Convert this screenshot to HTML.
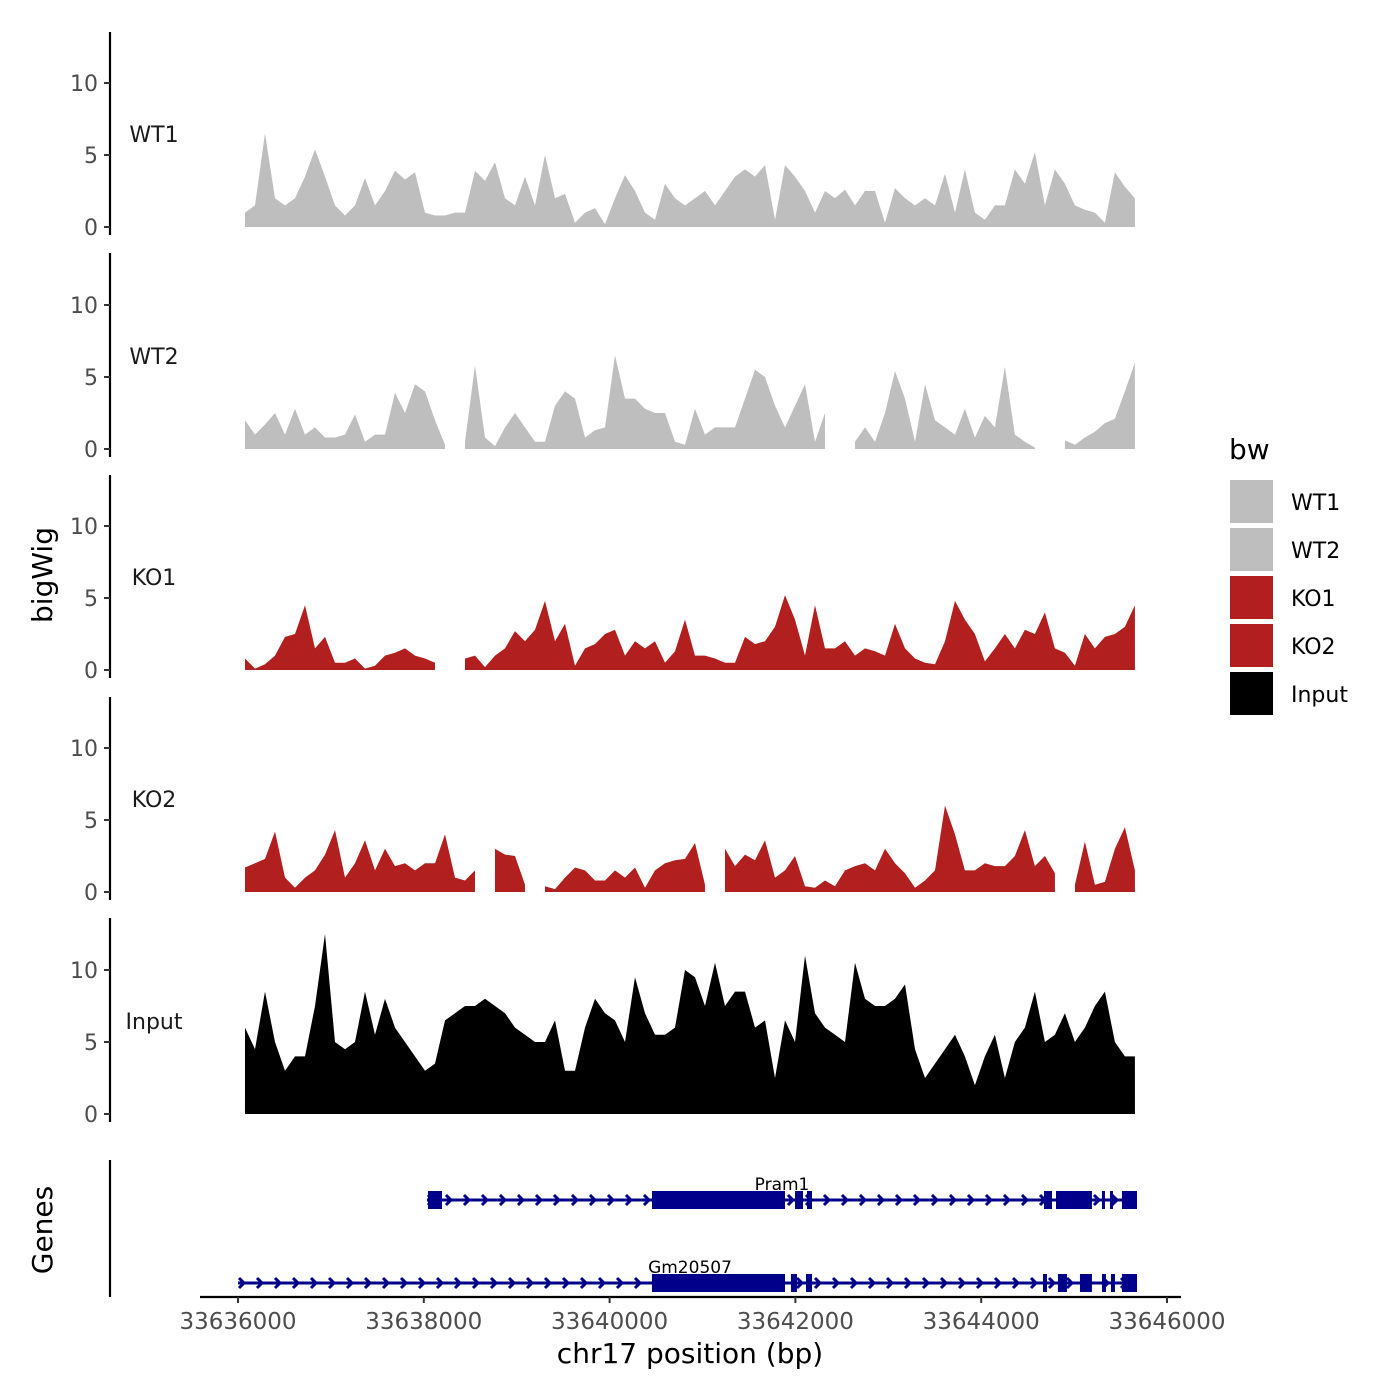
<!DOCTYPE html>
<html><head><meta charset="utf-8"><style>
body{margin:0;background:#fff;}
svg{display:block;font-family:"DejaVu Sans","Liberation Sans",sans-serif;}
</style></head><body>
<svg id="chart" width="1400" height="1400" viewBox="0 0 1400 1400"></svg>
<script>
const binStart = 33636075;
const binStep = 107.64;
const seriesNames = ["WT1","WT2","KO1","KO2","Input"];
const seriesColors = ["#bebebe","#bebebe","#b21f1f","#b21f1f","#000000"];
const wt1 = [1,1.5,6.5,2,1.5,2,3.5,5.4,3.5,1.5,0.8,1.5,3.4,1.5,2.5,3.9,3.3,3.8,1,0.8,0.8,1,1,3.9,3.2,4.5,2,1.5,3.5,1.5,5,2,2.3,0.3,1,1.3,0.2,2,3.6,2.5,1,0.5,3,2,1.5,2,2.5,1.5,2.5,3.5,4,3.5,4.3,0.5,4.3,3.5,2.5,1,2.5,2,2.6,1.5,2.5,2.5,0.3,2.7,2,1.5,2,1.5,3.7,1,4,1,0.5,1.5,1.5,4,3,5.2,1.5,4,3,1.5,1.2,1,0.3,3.8,2.8,2];
const wt2 = [2,1,1.7,2.5,1,2.8,1,1.5,0.8,0.8,1,2.4,0.5,1,1,3.9,2.5,4.5,4,2,0.3,null,0.5,5.8,0.8,0.2,1.5,2.5,1.5,0.5,0.5,3,4,3.5,0.8,1.3,1.5,6.5,3.5,3.5,2.8,2.5,2.5,0.5,0.3,2.8,1,1.5,1.5,1.5,3.5,5.5,5,3,1.5,3,4.5,0.5,2.5,null,null,0.5,1.5,0.5,2.5,5.4,3.5,0.5,4.5,2,1.5,1,2.8,0.8,2.3,1.5,5.7,1,0.5,0.1,null,null,0.6,0.3,0.8,1.2,1.8,2.1,4,6];
const ko1 = [0.8,0.1,0.4,1,2.3,2.5,4.5,1.5,2.3,0.5,0.5,0.8,0.1,0.3,1,1.2,1.5,1,0.8,0.5,null,null,0.8,1,0.2,1,1.5,2.7,2,2.8,4.8,2,3.2,0.3,1.5,1.8,2.5,2.8,1,2,1.5,2,0.5,1.3,3.5,1,1,0.8,0.5,0.5,2.3,1.8,2,3,5.2,3.5,1,4.5,1.5,1.5,2,1,1.5,1.3,1,3.2,1.5,0.8,0.5,0.4,2,4.8,3.5,2.5,0.6,1.5,2.5,1.5,2.8,2.5,4,1.5,1.2,0.3,2.5,1.5,2.3,2.5,3,4.5];
const ko2 = [1.7,2,2.3,4.2,1,0.3,1,1.5,2.6,4.3,1,2,3.6,1.5,3,1.8,2,1.5,2,2,4,1,0.8,1.5,null,3,2.6,2.5,0.5,null,0.4,0.2,1,1.7,1.5,0.8,0.8,1.5,1,1.7,0.3,1.5,2,2.2,2.3,3.4,0.5,null,3,1.8,2.6,2.2,3.6,1,1.5,2.5,0.4,0.3,0.8,0.4,1.5,1.8,2,1.5,3,2,1.3,0.3,0.8,1.5,6,4,1.5,1.5,2,1.8,1.8,2.5,4.3,1.8,2.5,1.3,null,0.5,3.5,0.5,0.7,3,4.5,1.5];
const input = [6,4.5,8.5,5,3,4,4,7.5,12.5,5,4.5,5,8.5,5.5,8,6,5,4,3,3.5,6.5,7,7.5,7.5,8,7.5,7,6,5.5,5,5,6.5,3,3,6,8,7,6.5,5,9.5,7,5.5,5.5,6,10,9.5,7.5,10.5,7.5,8.5,8.5,6,6.5,2.5,6.5,5,11,7,6,5.5,5,10.5,8,7.5,7.5,8,9,4.5,2.5,3.5,4.5,5.5,4,2,4,5.5,2.5,5,6,8.5,5,5.5,7,5,6,7.5,8.5,5,4,4];
const seriesValues = [wt1,wt2,ko1,ko2,input];
const yTicks = [0,5,10];
const xTicks = [33636000,33638000,33640000,33642000,33644000,33646000];
const geneNames = ["Pram1","Gm20507"];
const geneStarts = [33638034,33636000];
const geneEnds = [33645677,33645677];
const pram1Exons = [[33638045,33638196],[33640456,33641888],[33641996,33642082],[33642125,33642179],[33644676,33644762],[33644805,33645192],[33645300,33645332],[33645386,33645418],[33645515,33645677]];
const gmExons = [[33640456,33641888],[33641952,33642017],[33642114,33642179],[33644665,33644708],[33644826,33644923],[33645063,33645192],[33645300,33645343],[33645397,33645440],[33645515,33645677]];
const geneExons = [pram1Exons,gmExons];

const svg = document.getElementById('chart');
const NS = "http://www.w3.org/2000/svg";
function mk(tag, attrs, parent){const e=document.createElementNS(NS,tag);for(const k in attrs)e.setAttribute(k,attrs[k]);(parent||svg).appendChild(e);return e;}
const xScale = bp => 238 + (bp-33636000)*0.0929;
const panelZero = [227,449,670,892,1114];
const yUnit = 14.4;
const axisTop = [32,253,475,697,918];

for(let p=0;p<5;p++){
  const g = mk('g',{});
  
  
  const y0 = panelZero[p];
  const ys = v => y0 - v*yUnit;
  const vals = seriesValues[p];
  let seg = [];
  const segs = [];
  vals.forEach((v,i)=>{ if(v===null){ if(seg.length) segs.push(seg); seg=[]; } else seg.push([xScale(binStart+i*binStep), ys(v)]); });
  if(seg.length) segs.push(seg);
  segs.forEach(s=>{
    let d = 'M'+s[0][0]+','+y0;
    s.forEach(pt=>{ d += ' L'+pt[0].toFixed(1)+','+pt[1].toFixed(1); });
    d += ' L'+s[s.length-1][0]+','+y0+' Z';
    const a = mk('path',{d:d,fill:seriesColors[p]},g);
    
    
  });
  const ax = mk('line',{x1:110,x2:110,y1:axisTop[p],y2:y0+8,stroke:'#000','stroke-width':2.2},g);
  
  
  yTicks.forEach(t=>{
    mk('line',{x1:104,x2:110,y1:ys(t),y2:ys(t),stroke:'#333','stroke-width':2},g);
    const tl = mk('text',{x:98,y:ys(t)+8,'text-anchor':'end','font-size':22,fill:'#4d4d4d'},g);
    tl.textContent = t;
    
    
  });
  const lbl = mk('text',{x:154,y:y0-85,'text-anchor':'middle','font-size':22,fill:'#1a1a1a'},g);
  lbl.textContent = seriesNames[p];
  
  
}

const gAx = mk('line',{x1:110,x2:110,y1:1160,y2:1297,stroke:'#000','stroke-width':2.2});


const geneY = [1200,1283];
const geneLabelX = [782,690];
for(let k=0;k<2;k++){
  const g = mk('g',{});
  
  
  const y = geneY[k];
  const x1 = xScale(geneStarts[k]), x2 = xScale(geneEnds[k]);
  mk('line',{x1:x1,x2:x2,y1:y,y2:y,stroke:'#00008b','stroke-width':3},g);
  for(let x=x1+4;x<x2-4;x+=18){
    mk('polyline',{points:(x-3)+','+(y-5)+' '+(x+2)+','+y+' '+(x-3)+','+(y+5),fill:'none',stroke:'#00008b','stroke-width':3},g);
  }
  geneExons[k].forEach(e=>{
    const r = mk('rect',{x:xScale(e[0]),y:y-9,width:Math.max(3,xScale(e[1])-xScale(e[0])),height:18,fill:'#00008b'},g);
    
    
  });
  const t = mk('text',{x:geneLabelX[k],y:y-10,'text-anchor':'middle','font-size':17,fill:'#000'},g);
  t.textContent = geneNames[k];
  
  
}

const xa = mk('line',{x1:200,x2:1181,y1:1297,y2:1297,stroke:'#000','stroke-width':2.2});


xTicks.forEach(t=>{
  const x = xScale(t);
  mk('line',{x1:x,x2:x,y1:1297,y2:1303,stroke:'#333','stroke-width':2});
  const tl = mk('text',{x:x,y:1329,'text-anchor':'middle','font-size':23,fill:'#4d4d4d'});
  tl.textContent = t;
  
  
});
const xt = mk('text',{x:690,y:1363,'text-anchor':'middle','font-size':28,fill:'#000'});
xt.textContent = 'chr17 position (bp)';


const yt = mk('text',{x:52,y:575,'text-anchor':'middle','font-size':28,fill:'#000',transform:'rotate(-90 52 575)'});
yt.textContent = 'bigWig';


const gt = mk('text',{x:52,y:1230,'text-anchor':'middle','font-size':28,fill:'#000',transform:'rotate(-90 52 1230)'});
gt.textContent = 'Genes';



const lg = mk('g',{});


const lt = mk('text',{x:1229,y:459,'font-size':28,fill:'#000'},lg);
lt.textContent = 'bw';


seriesNames.forEach((n,i)=>{
  const y = 480 + i*48;
  const r = mk('rect',{x:1230,y:y,width:43,height:43,fill:seriesColors[i]},lg);
  
  
  const t = mk('text',{x:1291,y:y+30,'font-size':22,fill:'#000'},lg);
  t.textContent = n;
  
  
});
</script>
</body></html>
